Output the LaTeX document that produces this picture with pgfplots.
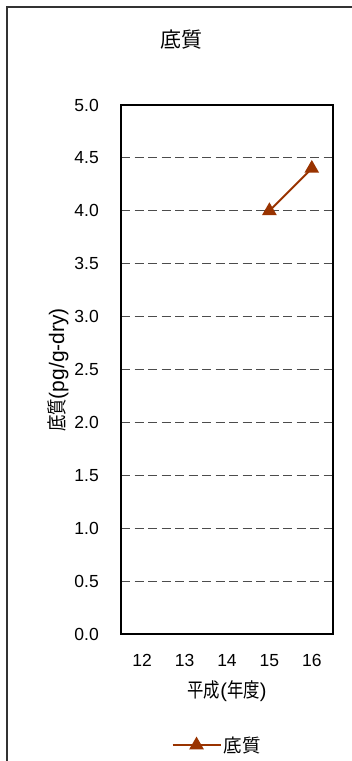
\documentclass[border=0pt]{standalone}
\usepackage{pgfplots}
\pgfplotsset{compat=1.18}
\usepackage{fontspec}
\setmainfont{Liberation Sans}
\newfontfamily\cjk{Noto Sans CJK JP}
\newfontfamily\cjkn[FakeStretch=0.82]{Noto Sans CJK JP}
\definecolor{ser}{HTML}{993300}
\begin{document}
\begin{tikzpicture}
\path[use as bounding box] (0pt,0pt) rectangle (352pt,-761pt);
\draw[line width=1.3pt, black!80] (7pt,-775pt) -- (7pt,-7pt) -- (360pt,-7pt);
\node[font=\cjk\fontsize{21}{24}\selectfont] at (181pt,-40pt) {底質};
\node[font=\fontsize{21}{24}\selectfont, rotate=90] at (58pt,-370pt) {{\cjkn\fontsize{20}{23}\selectfont 底質}(pg/g-dry)};
\node[font=\fontsize{20}{23}\selectfont] at (227pt,-691pt) {{\cjkn\fontsize{20}{23}\selectfont 平成}({\cjkn\fontsize{20}{23}\selectfont 年度})};
\begin{axis}[
  at={(121pt,-634pt)}, anchor=south west,
  width=212pt, height=529pt, scale only axis,
  xmin=11.5, xmax=16.5, ymin=0, ymax=5,
  xtick={12,13,14,15,16},
  ytick={0,0.5,1,1.5,2,2.5,3,3.5,4,4.5,5},
  major tick length=0pt,
  axis line style={line width=1.2pt, black},
  ymajorgrids,
  grid style={black!70, line width=1pt, dash pattern=on 9pt off 4.5pt},
  /pgf/number format/assume math mode=true,
  yticklabel style={/pgf/number format/fixed, /pgf/number format/fixed zerofill, /pgf/number format/precision=1, font=\fontsize{17.5}{20}\selectfont, inner sep=0pt, xshift=-22pt},
  xticklabel style={font=\fontsize{17.5}{20}\selectfont, inner sep=0pt, yshift=-20pt},
  legend style={at={(0.453,-0.21)}, anchor=center, draw=none, fill=none, font=\cjk\fontsize{18.5}{21}\selectfont, inner sep=0pt},
  legend image code/.code={\draw[#1, mark repeat=2, mark phase=2] plot coordinates {(0pt,0pt) (24pt,0pt) (48pt,0pt)};},
]
\addplot[ser, line width=2pt, mark=triangle*, mark size=6.5pt, mark options={solid}] coordinates {(15,4.0) (16,4.4)};
\addlegendentry{底質}
\end{axis}
\end{tikzpicture}
\end{document}
